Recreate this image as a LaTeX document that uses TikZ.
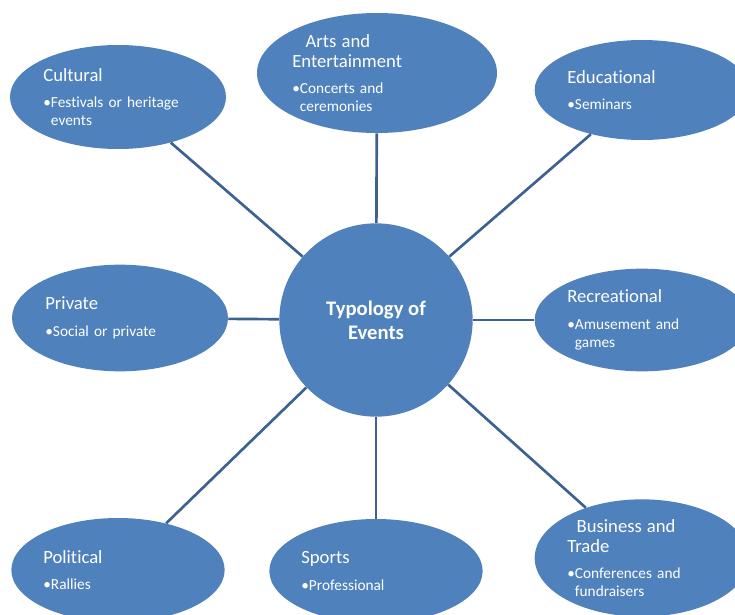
\documentclass[tikz,border=0pt]{standalone}
\usepackage{fontspec}
\setmainfont{Carlito}[Ligatures=NoCommon]
\usetikzlibrary{shapes.geometric}
\definecolor{evblue}{RGB}{79,129,189}
\definecolor{evline}{RGB}{62,98,143}
\newcommand{\evtitle}[1]{{\fontsize{14}{15}\selectfont #1}}
\newcommand{\evitem}{\textbullet}
\newcommand{\evind}{\hphantom{\textbullet}}
\tikzset{
  evtype/.style={ellipse, fill=evblue, text=white, inner sep=0pt, align=left, text width=112pt, font=\fontsize{11.5}{13.5}\selectfont},
  evhub/.style={circle, fill=evblue, text=white, minimum size=145pt, inner sep=0pt, align=center, font=\bfseries\fontsize{15.5}{18}\selectfont},
  evlink/.style={draw=evline, line width=2pt}
}

\begin{document}
\begin{tikzpicture}[x=0.75pt, y=-0.75pt]
  \clip (0,0) rectangle (735,614);
  \fill[white] (0,0) rectangle (735,614);

  % centre
  \node[evhub] (hub) at (376,320) {Typology of\\Events};

  % top row
  \node[evtype, minimum width=162pt, minimum height=78pt] (cul) at (118,97) {\evtitle{Cultural}\\[6.5pt]\evitem Festivals or heritage\\\evind events};
  \node[evtype, text width=127pt, minimum width=180pt, minimum height=90pt] (art) at (377,73) {\hspace*{10pt}\evtitle{Arts and}\\[1.5pt]\evtitle{Entertainment}\\[6.5pt]\evitem Concerts and\\\evind ceremonies};
  \node[evtype, minimum width=161pt, minimum height=75pt] (edu) at (642,90) {\evtitle{Educational}\\[6.5pt]\evitem Seminars};

  % middle row
  \node[evtype, minimum width=162pt, minimum height=80pt] (pri) at (120,318) {\evtitle{Private}\\[6.5pt]\evitem Social or private};
  \node[evtype, minimum width=161pt, minimum height=77pt] (rec) at (642,320) {\evtitle{Recreational}\\[6.5pt]\evitem Amusement and\\\evind games};

  % bottom row
  \node[evtype, minimum width=160pt, minimum height=78pt] (pol) at (118,570) {\evtitle{Political}\\[6.5pt]\evitem Rallies};
  \node[evtype, minimum width=160pt, minimum height=78pt] (spo) at (376,571) {\evtitle{Sports}\\[6.5pt]\evitem Professional};
  \node[evtype, minimum width=161pt, minimum height=88pt] (bus) at (642,558) {\hspace*{7pt}\evtitle{Business and}\\[1.5pt]\evtitle{Trade}\\[6.5pt]\evitem Conferences and\\\evind fundraisers};

  % spokes
  \foreach \t in {cul,art,edu,pri,rec,pol,spo,bus}
    \draw[evlink] (\t) -- (hub);
\end{tikzpicture}
\end{document}
